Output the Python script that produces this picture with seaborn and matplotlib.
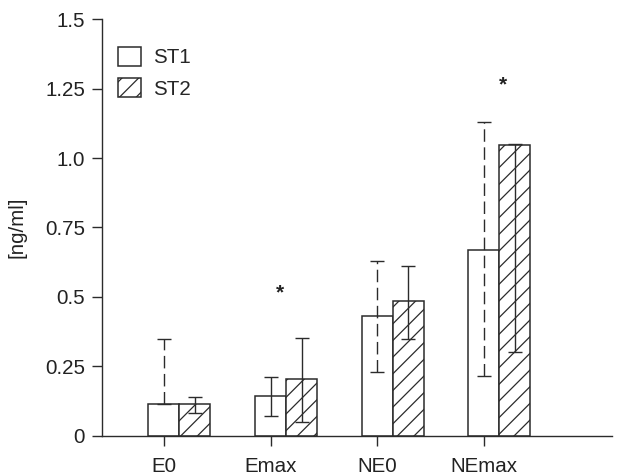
import numpy as np
import pandas as pd
import seaborn as sns
import matplotlib
matplotlib.use("Agg")
import matplotlib.pyplot as plt

# values
categories = ["E0", "Emax", "NE0", "NEmax"]
groups = ["ST1", "ST2"]
st1_mean = [0.113, 0.143, 0.432, 0.670]
st2_mean = [0.113, 0.204, 0.486, 1.048]
st1_upper = [0.350, 0.211, 0.631, 1.131]
st1_lower = [0.113, 0.072, 0.230, 0.215]
st2_upper = [0.138, 0.351, 0.612, 1.052]
st2_lower = [0.080, 0.050, 0.350, 0.302]
star_values = [None, 0.515, None, 1.265]
ytick_values = [0, 0.25, 0.5, 0.75, 1.0, 1.25, 1.5]
ytick_labels = ["0", "0.25", "0.5", "0.75", "1.0", "1.25", "1.5"]

sns.set_style("ticks")
plt.rcParams["font.family"] = ["Liberation Sans", "DejaVu Sans"]
edge = "#2b2b2b"
plt.rcParams["hatch.color"] = edge
plt.rcParams["hatch.linewidth"] = 0.9

df = pd.DataFrame({
    "category": categories * 2,
    "group": [groups[0]] * 4 + [groups[1]] * 4,
    "value": st1_mean + st2_mean,
})

fig = plt.figure(figsize=(6.27, 4.76), dpi=100)
ax = fig.add_axes([0.162, 0.0847, 0.814, 0.8748])

sns.barplot(data=df, x="category", y="value", hue="group", order=categories,
            hue_order=groups, palette=["white", "white"], edgecolor=edge,
            linewidth=1.1, width=0.58, gap=0, legend=False, ax=ax, errorbar=None)

st1_bars, st2_bars = ax.containers[0], ax.containers[1]
for p in st2_bars:
    p.set_hatch("//")

st1_x = [p.get_x() + p.get_width() / 2 for p in st1_bars]
st2_x = [p.get_x() + p.get_width() / 2 for p in st2_bars]

# error bars (ST1 mostly dashed)
st1_styles = [(0, (9, 4)), "-", (0, (9, 4)), (0, (9, 4))]
for i in range(len(categories)):
    eb = ax.errorbar(st1_x[i], st1_mean[i],
                     yerr=[[st1_mean[i] - st1_lower[i]], [st1_upper[i] - st1_mean[i]]],
                     fmt="none", ecolor=edge, elinewidth=1.0, capsize=4.7, capthick=1.0)
    eb[2][0].set_linestyle(st1_styles[i])
    ax.errorbar(st2_x[i], st2_mean[i],
                yerr=[[st2_mean[i] - st2_lower[i]], [st2_upper[i] - st2_mean[i]]],
                fmt="none", ecolor=edge, elinewidth=1.0, capsize=4.7, capthick=1.0)

# significance stars
star_offsets = [0, 0.085, 0, 0.178]
for i, v in enumerate(star_values):
    if v is not None:
        ax.text(st1_x[i] + star_offsets[i], v, "*", ha="center", va="center",
                fontsize=15, fontweight="bold", color="#222222")

fs = 14.8
ax.set_xlim(st1_x[0] - 0.584, st1_x[0] + 4.2)
ax.set_ylim(0, 1.5)
ax.set_xticks(st1_x)
ax.set_xticklabels(categories)
ax.set_yticks(ytick_values)
ax.set_yticklabels(ytick_labels)
ax.set_xlabel("")
ax.set_ylabel("[ng/ml]", fontsize=fs, labelpad=13, color="#222222")
ax.tick_params(axis="both", labelsize=fs, length=7, width=1.0, color=edge,
               labelcolor="#222222", direction="out")
ax.tick_params(axis="y", pad=5)
ax.tick_params(axis="x", pad=8.5)
for s in ["top", "right"]:
    ax.spines[s].set_visible(False)
for s in ["left", "bottom"]:
    ax.spines[s].set_linewidth(1.0)
    ax.spines[s].set_color(edge)

ax.legend(ax.containers[:2], groups, loc="upper left", bbox_to_anchor=(-0.005, 0.979),
          frameon=False, fontsize=fs, handlelength=1.15, handleheight=1.1,
          labelspacing=0.5, handletextpad=0.6)

fig.savefig("out.png", dpi=100)
